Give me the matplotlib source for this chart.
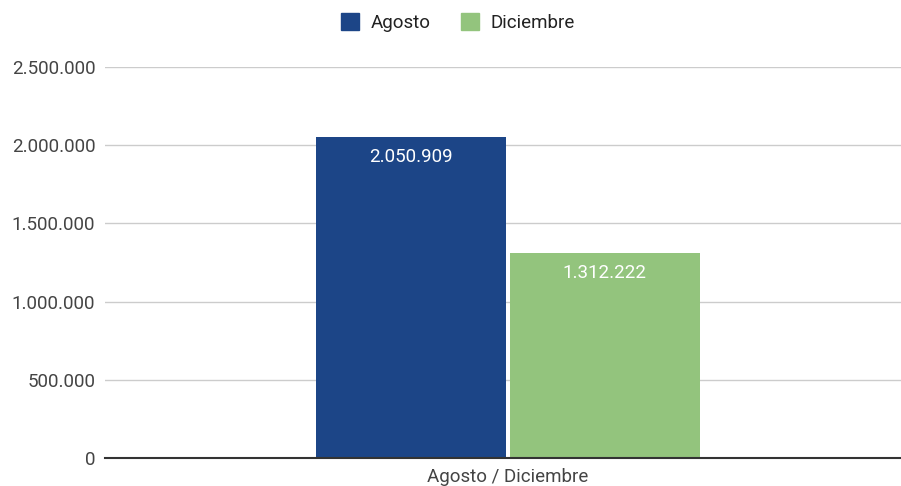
import matplotlib
matplotlib.use("Agg")
import matplotlib.pyplot as plt
from matplotlib.patches import Patch
from matplotlib.ticker import FuncFormatter, MultipleLocator
import numpy as np

categories = ["Agosto / Diciembre"]
series_names = ["Agosto", "Diciembre"]
agosto = [2050909]
diciembre = [1312222]

colors = ["#1c4587", "#93c47d"]

plt.rcParams["font.family"] = ["Roboto", "DejaVu Sans"]


def miles(v, pos=None):
    return f"{v:,.0f}".replace(",", ".")


fig = plt.figure(figsize=(9.01, 4.86), dpi=100)
ax = fig.add_axes([105 / 901, 28 / 486, 806 / 901, 391 / 486])

x = np.arange(len(categories))
bar_w = 0.2357
gap = 0.004
off = (bar_w + gap) / 2

b1 = ax.bar(x - off, agosto, width=bar_w, color=colors[0], zorder=3)
b2 = ax.bar(x + off, diciembre, width=bar_w, color=colors[1], zorder=3)

for bars in (b1, b2):
    for rect in bars:
        h = rect.get_height()
        ax.annotate(miles(h), (rect.get_x() + rect.get_width() / 2, h),
                    xytext=(0, -8), textcoords="offset points",
                    ha="center", va="top", color="white", fontsize=13.5, zorder=4)

ax.set_xlim(-0.5, 0.5)
ax.set_ylim(0, 2500000)
ax.yaxis.set_major_locator(MultipleLocator(500000))
ax.yaxis.set_major_formatter(FuncFormatter(miles))
ax.set_xticks(x)
ax.set_xticklabels(categories)

ax.grid(axis="y", color="#cccccc", linewidth=1, zorder=0)
for s in ("top", "right", "left"):
    ax.spines[s].set_visible(False)
ax.spines["bottom"].set_color("#333333")
ax.spines["bottom"].set_linewidth(1.5)
ax.spines["bottom"].set_zorder(5)
ax.tick_params(axis="both", length=0, labelsize=13.5, labelcolor="#444444")
ax.tick_params(axis="y", pad=7)
ax.tick_params(axis="x", pad=7.5)

handles = [Patch(facecolor=c, edgecolor=c) for c in colors]
fig.legend(handles, series_names, loc="center", bbox_to_anchor=(0.508, 0.953),
           ncol=2, frameon=False, fontsize=13.5, handlelength=1.0, handleheight=1.0,
           handletextpad=0.6, columnspacing=1.6, labelcolor="#222222")

fig.savefig("out.png", dpi=100)
